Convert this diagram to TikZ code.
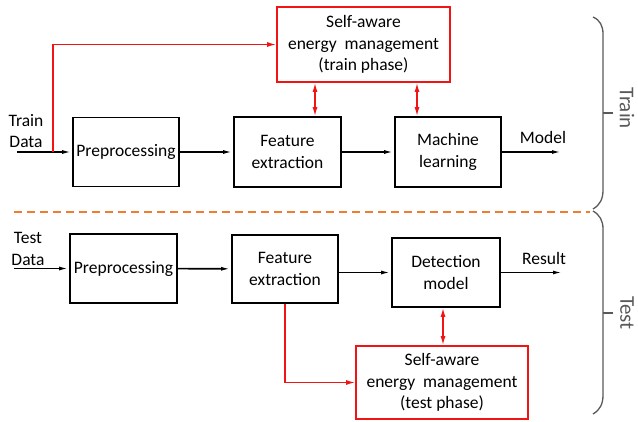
\documentclass[tikz,border=0pt]{standalone}
\usepackage{fontspec}
\setmainfont{Carlito}
\usetikzlibrary{arrows.meta}
\definecolor{sared}{RGB}{240,20,20}
\definecolor{splitorange}{RGB}{237,125,49}
\definecolor{bracegray}{RGB}{89,89,89}

\begin{document}
\begin{tikzpicture}[x=1pt,y=-1pt,>={Latex[length=10pt,width=3.8pt]},
        font=\fontsize{17.5}{21.7}\selectfont,
        block/.style={shape=rectangle,draw,line width=1.6pt,minimum width=106pt,minimum height=69pt,align=center,inner sep=1pt},
        sablock/.style={block,draw=sared,minimum width=173pt,minimum height=74pt},
        flow/.style={->,line width=1.6pt},
        saflow/.style={line width=1.5pt,draw=sared,{Latex[length=9pt,width=5pt]}-{Latex[length=9pt,width=5pt]}},
        saline/.style={->,line width=1.5pt,draw=sared,>={Latex[length=9pt,width=5pt]}},
        phase/.style={text=bracegray,font=\fontsize{21}{25}\selectfont,rotate=-90}]
    \useasboundingbox (0,0) rectangle (638,422);

    % train
    \node (pre1) [block] at (126,152) {Preprocessing};
    \node (fe1) [block,minimum width=107pt,minimum height=70pt] at (287.5,152) {Feature\\extraction};
    \node (ml) [block,minimum height=70pt] at (448,152) {Machine\\learning};
    \node (sa1) [sablock,minimum height=75pt] at (363.5,44.5) {Self-aware\\energy~ management\\(train phase)};
    \node (traindata) [align=center] at (26,131) {Train\\Data};
    \node (model) at (543,137) {Model};
    \coordinate (in1) at (17,152);
    \coordinate (split1) at (53,152);
    \coordinate (out1) at (562,152);

    \draw[flow] (in1) -- (pre1.west);
    \path[flow] (pre1) edge (fe1);
    \path[flow] (fe1) edge (ml);
    \draw[flow] (ml.east) -- (out1);
    \draw[saline] (split1) |- (sa1.west);
    \draw[saflow] ([xshift=27.5pt]fe1.north) -- ([xshift=27.5pt]fe1.north |- sa1.south);
    \draw[saflow] ([xshift=-31pt]ml.north) -- ([xshift=-31pt]ml.north |- sa1.south);

    % split
    \coordinate (dash1) at (14,212);
    \coordinate (dash2) at (590,212);
    \draw[splitorange,line width=1.4pt,dash pattern=on 8pt off 5pt] (dash1) -- (dash2);

    % test
    \node (pre2) [block,minimum width=107pt] at (123.5,268.5) {Preprocessing};
    \node (fe2) [block,minimum height=68pt] at (285,269) {Feature\\extraction};
    \node (det) [block,minimum width=108pt] at (446,272.5) {Detection\\model};
    \node (sa2) [sablock,minimum width=172pt,minimum height=73pt] at (442,382.5) {Self-aware\\energy~ management\\(test phase)};
    \node (testdata) [align=center] at (28,249) {Test\\Data};
    \node (result) at (544,258) {Result};
    \coordinate (in2) at (14,268.5);
    \coordinate (out2) at (563,272.5);

    \draw[flow] (in2) -- (pre2.west);
    \path[flow] (pre2) edge (fe2);
    \draw[flow] (fe2.east |- det.west) -- (det.west);
    \draw[flow] (det.east) -- (out2);
    \draw[saline] (fe2.south) |- (sa2.west);
    \draw[saflow] ([xshift=-3pt]det.south) -- ([xshift=-3pt]det.south |- sa2.north);

    % braces
    \draw[bracegray,line width=1.3pt] (593,17) .. controls (600,20) and (603,26) .. (603,34) -- (603,190) .. controls (603,199) and (600,205) .. (593,209);
    \draw[bracegray,line width=1.3pt] (603,113) -- (613,113);
    \draw[bracegray,line width=1.3pt] (593,211) .. controls (600,215) and (603,221) .. (603,229) -- (603,395) .. controls (603,404) and (600,410) .. (593,414);
    \draw[bracegray,line width=1.3pt] (603,313) -- (613,313);
    \node (train) [phase] at (627,108) {Train};
    \node (test) [phase] at (627,313) {Test};
\end{tikzpicture}
\end{document}
